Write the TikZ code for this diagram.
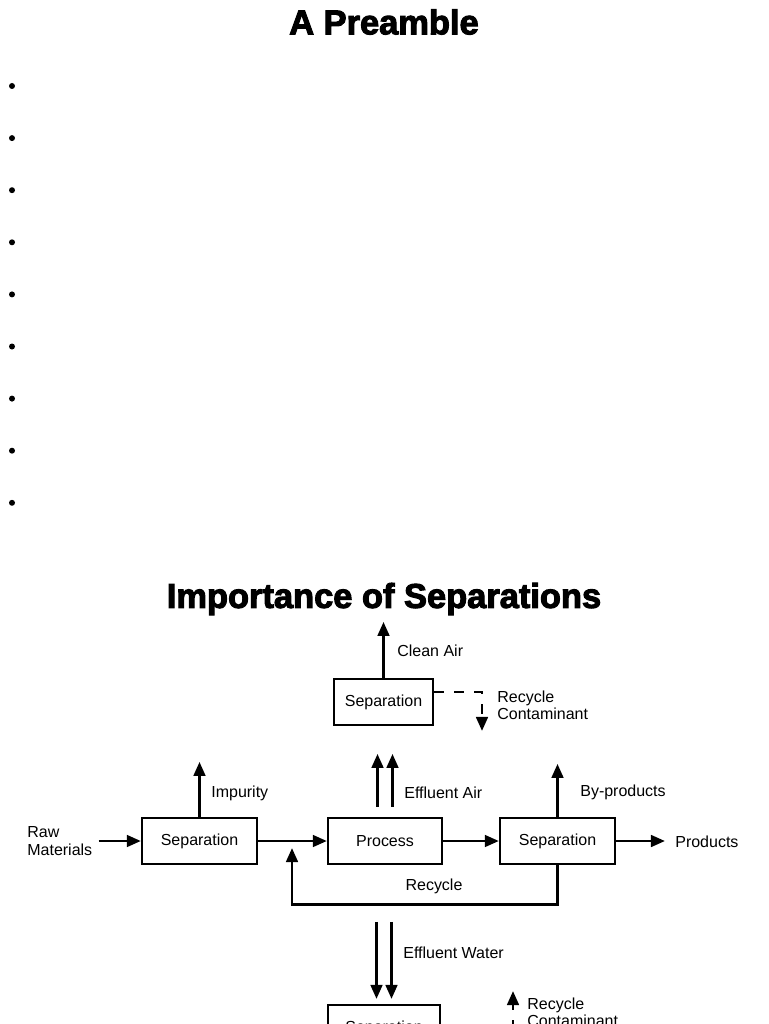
\documentclass[tikz,border=0pt]{standalone}
\usepackage{fontspec}
\setmainfont{Liberation Sans}
\newfontfamily\heavyfont{Liberation Sans}[BoldFeatures={FakeBold=3}]
\usetikzlibrary{arrows.meta, positioning}
\newcommand{\diagfont}{\fontsize{9.1}{9.8}\selectfont}
\newcommand{\headfont}{\heavyfont\bfseries\fontsize{19.6}{23}\selectfont}
\tikzset{
  unit/.style={draw, line width=1.3pt, minimum width=2.3cm, minimum height=0.92cm,
               inner sep=0pt, font=\diagfont},
  flow/.style={line width=1.6pt, -{Triangle[length=8pt, width=6.6pt]}},
  backflow/.style={flow, dash pattern=on 5.7pt off 5.7pt},
  lbl/.style={font=\diagfont, inner sep=0pt, anchor=west, align=left},
}

\begin{document}
\begin{tikzpicture}[x=0.02cm, y=-0.02cm]
    \useasboundingbox (0,0) rectangle (768,1024);
    \clip (0,0) rectangle (768,1024);
    \fill[white] (0,0) rectangle (768,1024);

    \node[font=\headfont] (preamble) at (384,22) {A Preamble};
    \foreach \k in {0,...,8}{
      \fill (12,86+\k*52.1) circle (3);
    }
    \node[font=\headfont] (importance) at (384,599) {Importance of Separations};

    \node[unit, minimum width=1.98cm] (sepTop) at (383.5,702) {Separation};
    \node[unit] (sepRaw) at (199.5,841) {Separation};
    \node[unit, minimum width=2.28cm] (proc) at (385,841) {Process};
    \node[unit] (sepProd) at (557.5,841) {Separation};
    \node[unit, minimum width=2.24cm] (sepBot) at (384,1028) {Separation};

    \node[lbl] (cleanAir) at (397,651) {Clean Air};
    \node[lbl] (recTopLbl) at (497,705) {Recycle\\Contaminant};
    \node[lbl] (raw) at (27,841) {Raw\\Materials};
    \node[lbl] (impurity) at (211,793) {Impurity};
    \node[lbl] (effAir) at (404,793) {Effluent Air};
    \node[lbl] (byProd) at (580,792) {By-products};
    \node[lbl] (products) at (675,842) {Products};
    \node[font=\diagfont, inner sep=0pt] (recycle) at (434,886) {Recycle};
    \node[lbl] (effWater) at (403,953) {Effluent Water};
    \node[lbl] (recBotLbl) at (527,1012) {Recycle\\Contaminant};

    \coordinate (recTop) at (482,731);
    \coordinate (recBot) at (513,991);
    \coordinate (join) at (292,848);

    \draw[flow] (sepTop.north) -- ++(0,-56);
    \draw[backflow] ([yshift=0.2cm]sepTop.east) -| (recTop);

    \draw[flow, shorten <=3.4pt] (raw.east |- sepRaw) -- (sepRaw.west);
    \draw[flow] (sepRaw.north) -- ++(0,-55);
    \draw[flow] (sepRaw.east) -- (proc.west);
    \foreach \dx in {-0.15,0.15}{
      \draw[flow] ([xshift=\dx cm, yshift=0.2cm]proc.north) -- ++(0,-53);
    }
    \draw[flow] (proc.east) -- (sepProd.west);
    \draw[flow] (sepProd.north) -- ++(0,-53);
    \draw[flow, shorten >=5.7pt] (sepProd.east) -- (sepProd.east -| products.west);
    \draw[flow] (sepProd.south) -- ++(0,39) -| (join);

    \foreach \dx in {-0.15,0.15}{
      \draw[flow, shorten >=2.8pt] ([xshift=\dx cm, yshift=1.64cm]sepBot.north) -- ([xshift=\dx cm]sepBot.north);
    }
    \draw[backflow] ([yshift=-0.2cm]sepBot.east) -| (recBot);
\end{tikzpicture}
\end{document}
